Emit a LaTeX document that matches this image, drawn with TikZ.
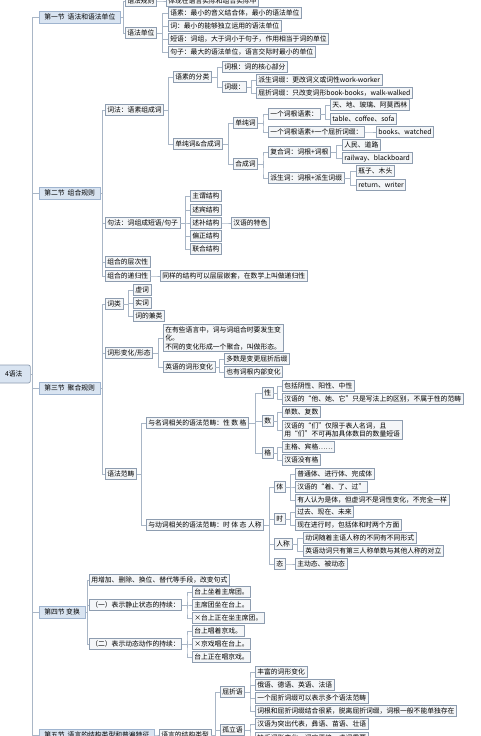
\documentclass[tikz,border=0pt]{standalone}
\usepackage{fontspec}
\setmainfont{Noto Sans CJK SC}
\usetikzlibrary{calc}
\definecolor{bd}{HTML}{8E9DB0}
\definecolor{bf}{HTML}{F4F6F8}
\definecolor{sf}{HTML}{D9E4F1}
\definecolor{sd}{HTML}{9FB4CF}
\definecolor{lc}{HTML}{A9B6C6}
\tikzset{
 box/.style={draw=bd, fill=bf, line width=0.6pt, anchor=west, font=\fontsize{6.8}{8.5}\selectfont, inner xsep=2pt, inner ysep=1.8pt, text height=5.6pt, text depth=1.4pt},
 mbox/.style={draw=bd, fill=bf, line width=0.6pt, anchor=west, font=\fontsize{6.8}{8.5}\selectfont, inner xsep=2pt, inner ysep=1.8pt, align=left},
 sec/.style={box, fill=sf, draw=sd, inner xsep=5pt, inner ysep=2.4pt},
 rootbox/.style={draw=bd, fill=sf, line width=0.7pt, anchor=west, rounded corners=2pt, font=\fontsize{6.8}{8.5}\selectfont, minimum width=33pt, minimum height=18pt},
 cl/.style={draw=lc, line width=0.5pt},
}
\newcommand\cn[2]{\draw[cl] (#1.east) -| ($(#1.east)!.5!(#2.west)$) |- (#2.west);}
\begin{document}
\begin{tikzpicture}[x=1pt,y=-1pt]
\useasboundingbox (0,0) rectangle (480,736);
\fill[white] (0,0) rectangle (480,736);
% root and sections
\node[rootbox] (root) at (-3,374) {4语法};
\node[sec] (s1) at (39,17) {第一节\ \ 语法和语法单位};
\node[sec] (s2) at (39,193) {第二节\ \ 组合规则};
\node[sec] (s3) at (39,388) {第三节\ \ 聚合规则};
\node[sec] (s4) at (39,612) {第四节 变换};
\node[sec] (s5) at (39,735) {第五节\ \ 语言的结构类型和普遍特征};
\coordinate (tt) at (32,17);
\coordinate (tb) at (32,740);
\draw[cl] (tt) -- (tb);
\draw[cl] (root.east) -- (root.east -| tt);
\foreach \s in {s1,s2,s3,s4,s5} {\draw[cl] (\s.west -| tt) -- (\s.west);}
% section 1
\node[box] (a1) at (125,1) {语法规则};
\node[box] (a1c) at (166,1) {体现在语言实际和组合实际中};
\node[box] (a2) at (125,33) {语法单位};
\node[box] (a21) at (168,13) {语素：最小的音义结合体，最小的语法单位};
\node[box] (a22) at (168,26) {词：最小的能够独立运用的语法单位};
\node[box] (a23) at (168,39) {短语：词组，大于词小于句子，作用相当于词的单位};
\node[box] (a24) at (168,52) {句子：最大的语法单位，语言交际时最小的单位};
\cn{s1}{a1}\cn{s1}{a2}\cn{a1}{a1c}
\foreach \c in {a21,a22,a23,a24} {\cn{a2}{\c}}
% section 2
\node[box] (b1) at (105,110) {词法：语素组成词};
\node[box] (b11) at (173,77) {语素的分类};
\node[box] (b111) at (222,67) {词根：词的核心部分};
\node[box] (b112) at (222,87) {词缀：};
\node[box] (b1121) at (256,80) {派生词缀：更改词义或词性work-worker};
\node[box] (b1122) at (256,93) {屈折词缀：只改变词形book-books，walk-walked};
\node[box] (b12) at (173,144) {单纯词\&合成词};
\node[box] (b121) at (233,123) {单纯词};
\node[box] (b1211) at (268,114) {一个词根语素：};
\node[box] (b12111) at (330,105) {天、地、玻璃、阿莫西林};
\node[box] (b12112) at (330,119) {table、coffee、sofa};
\node[box] (b1212) at (268,132) {一个词根语素+一个屈折词缀：};
\node[box] (b12121) at (376,132) {books、watched};
\node[box] (b122) at (233,164) {合成词};
\node[box] (b1221) at (268,152) {复合词：词根+词根};
\node[box] (b12211) at (342,145) {人民、道路};
\node[box] (b12212) at (342,158) {railway、blackboard};
\node[box] (b1222) at (268,178) {派生词：词根+派生词缀};
\node[box] (b12221) at (356,171) {瓶子、木头};
\node[box] (b12222) at (356,185) {return、writer};
\node[box] (b2) at (105,223) {句法：词组成短语/句子};
\node[box] (b21) at (190,196) {主谓结构};
\node[box] (b22) at (190,210) {述宾结构};
\node[box] (b23) at (190,223) {述补结构};
\node[box] (b231) at (231,223) {汉语的特色};
\node[box] (b24) at (190,236) {偏正结构};
\node[box] (b25) at (190,249) {联合结构};
\node[box] (b3) at (105,262) {组合的层次性};
\node[box] (b4) at (105,276) {组合的递归性};
\node[box] (b41) at (160,276) {同样的结构可以层层嵌套，在数学上叫做递归性};
\foreach \c in {b1,b2,b3,b4} {\cn{s2}{\c}}
\cn{b1}{b11}\cn{b1}{b12}
\cn{b11}{b111}\cn{b11}{b112}
\cn{b112}{b1121}\cn{b112}{b1122}
\cn{b12}{b121}\cn{b12}{b122}
\cn{b121}{b1211}\cn{b121}{b1212}
\cn{b1211}{b12111}\cn{b1211}{b12112}
\cn{b1212}{b12121}
\cn{b122}{b1221}\cn{b122}{b1222}
\cn{b1221}{b12211}\cn{b1221}{b12212}
\cn{b1222}{b12221}\cn{b1222}{b12222}
\foreach \c in {b21,b22,b23,b24,b25} {\cn{b2}{\c}}
\cn{b23}{b231}
\cn{b4}{b41}
% section 3
\node[box] (c1) at (105,304) {词类};
\node[box] (c11) at (133,290) {虚词};
\node[box] (c12) at (133,303) {实词};
\node[box] (c13) at (133,316) {词的兼类};
\node[box] (c2) at (105,353) {词形变化/形态};
\node[mbox] (c21) at (163,338) {在有些语言中，词与词组合时要发生变\\化。\\不同的变化形成一个聚合，叫做形态。};
\node[box] (c22) at (163,367) {英语的词形变化};
\node[box] (c221) at (224,359) {多数是变更屈折后缀};
\node[box] (c222) at (224,372) {也有词根内部变化};
\node[box] (c3) at (105,474) {语法范畴};
\node[box] (c31) at (146,423) {与名词相关的语法范畴：性 数 格};
\node[box] (c311) at (262,393) {性};
\node[box] (c3111) at (282,386) {包括阴性、阳性、中性};
\node[box] (c3112) at (282,399) {汉语的“他、她、它”只是写法上的区别，不属于性的范畴};
\node[box] (c312) at (262,421) {数};
\node[box] (c3121) at (282,412) {单数、复数};
\node[mbox] (c3122) at (282,430) {汉语的“们”仅限于表人名词，且\\用“们”不可再加具体数目的数量短语};
\node[box] (c313) at (262,453) {格};
\node[box] (c3131) at (282,447) {主格、宾格……};
\node[box] (c3132) at (282,460) {汉语没有格};
\node[box] (c32) at (146,525) {与动词相关的语法范畴：时 体 态 人称};
\node[box] (c321) at (274,487) {体};
\node[box] (c3211) at (295,474) {普通体、进行体、完成体};
\node[box] (c3212) at (295,487) {汉语的“着、了、过”};
\node[box] (c3213) at (295,500) {有人认为是体，但虚词不是词性变化，不完全一样};
\node[box] (c322) at (274,519) {时};
\node[box] (c3221) at (295,512) {过去、现在、未来};
\node[box] (c3222) at (295,525) {现在进行时，包括体和时两个方面};
\node[box] (c323) at (274,544) {人称};
\node[box] (c3231) at (303,538) {动词随着主语人称的不同有不同形式};
\node[box] (c3232) at (303,551) {英语动词只有第三人称单数与其他人称的对立};
\node[box] (c324) at (274,564) {态};
\node[box] (c3241) at (295,564) {主动态、被动态};
\foreach \c in {c1,c2,c3} {\cn{s3}{\c}}
\foreach \c in {c11,c12,c13} {\cn{c1}{\c}}
\cn{c2}{c21}\cn{c2}{c22}
\cn{c22}{c221}\cn{c22}{c222}
\cn{c3}{c31}\cn{c3}{c32}
\foreach \c in {c311,c312,c313} {\cn{c31}{\c}}
\cn{c311}{c3111}\cn{c311}{c3112}
\cn{c312}{c3121}\cn{c312}{c3122}
\cn{c313}{c3131}\cn{c313}{c3132}
\foreach \c in {c321,c322,c323,c324} {\cn{c32}{\c}}
\foreach \c in {c3211,c3212,c3213} {\cn{c321}{\c}}
\cn{c322}{c3221}\cn{c322}{c3222}
\cn{c323}{c3231}\cn{c323}{c3232}
\cn{c324}{c3241}
% section 4
\node[box] (d1) at (89,580) {用增加、删除、换位、替代等手段，改变句式};
\node[box] (d2) at (89,605) {（一）表示静止状态的持续：};
\node[box] (d21) at (192,592) {台上坐着主席团。};
\node[box] (d22) at (192,605) {主席团坐在台上。};
\node[box] (d23) at (192,618) {×台上正在坐主席团。};
\node[box] (d3) at (89,644) {（二）表示动态动作的持续：};
\node[box] (d31) at (192,631) {台上唱着京戏。};
\node[box] (d32) at (192,644) {×京戏唱在台上。};
\node[box] (d33) at (192,657) {台上正在唱京戏。};
\foreach \c in {d1,d2,d3} {\cn{s4}{\c}}
\foreach \c in {d21,d22,d23} {\cn{d2}{\c}}
\foreach \c in {d31,d32,d33} {\cn{d3}{\c}}
% section 5
\node[box] (e1) at (159,735) {语言的结构类型};
\node[box] (e11) at (220,692) {屈折语};
\node[box] (e111) at (255,672) {丰富的词形变化};
\node[box] (e112) at (255,685) {俄语、德语、英语、法语};
\node[box] (e113) at (255,698) {一个屈折词缀可以表示多个语法范畴};
\node[box] (e114) at (255,711) {词根和屈折词缀结合很紧，脱离屈折词缀，词根一般不能单独存在};
\node[box] (e12) at (220,730) {孤立语};
\node[box] (e121) at (255,724) {汉语为突出代表，彝语、苗语、壮语};
\node[box] (e122) at (255,738) {缺乏词形变化，词序严格，虚词重要};
\cn{s5}{e1}
\cn{e1}{e11}\cn{e1}{e12}
\foreach \c in {e111,e112,e113,e114} {\cn{e11}{\c}}
\cn{e12}{e121}\cn{e12}{e122}
\end{tikzpicture}
\end{document}
